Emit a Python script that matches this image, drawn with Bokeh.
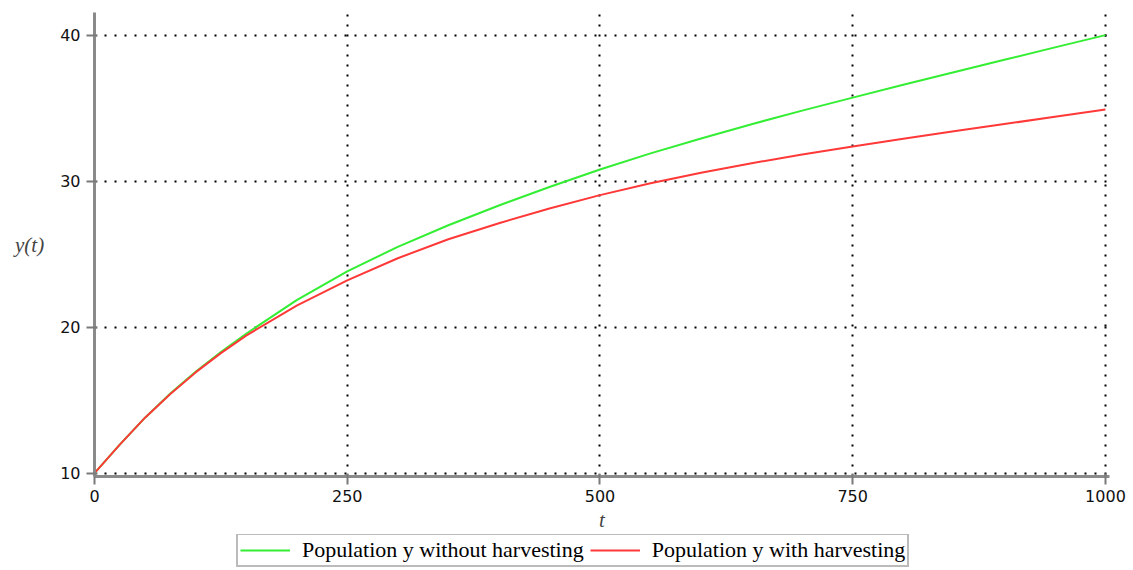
from bokeh.plotting import figure
from bokeh.models import Range1d, FixedTicker, Legend, LegendItem
from bokeh.layouts import column
from bokeh.embed import file_html
from bokeh.resources import INLINE

# data
t = [0, 25, 50, 75, 100, 125, 150, 200, 250, 300, 350, 400, 450, 500,
     550, 600, 650, 700, 750, 800, 850, 900, 950, 1000]
y_without = [10, 11.95, 13.8, 15.45, 16.95, 18.3, 19.55, 21.85, 23.82, 25.5, 26.98,
             28.33, 29.6, 30.8, 31.9, 32.92, 33.9, 34.83, 35.72, 36.6, 37.46,
             38.31, 39.16, 40.0]
y_with = [10, 11.95, 13.8, 15.42, 16.9, 18.22, 19.42, 21.48, 23.2, 24.72, 26.02,
          27.12, 28.12, 29.04, 29.85, 30.58, 31.23, 31.82, 32.37, 32.9, 33.41,
          33.91, 34.41, 34.9]
x_ticks = [0, 250, 500, 750, 1000]
y_ticks = [10, 20, 30, 40]
labels = ["Population y without harvesting", "Population y with harvesting"]
colors = ["#33ee33", "#ff3838"]

p = figure(frame_width=1015, frame_height=464, output_backend="svg",
           toolbar_location=None, x_range=Range1d(0, 1004),
           y_range=Range1d(9.77, 41.55),
           min_border_left=94, min_border_top=12, min_border_right=18,
           min_border_bottom=0)
p.outline_line_color = None
p.background_fill_color = "white"

for ax in (p.xaxis[0], p.yaxis[0]):
    ax.axis_line_color = "#8a8a8a"
    ax.axis_line_width = 3
    ax.major_tick_line_color = "#7a7a7a"
    ax.major_tick_line_width = 2
    ax.major_tick_out = 8
    ax.major_tick_in = 3
    ax.minor_tick_line_color = None
    ax.major_label_text_font = "DejaVu Sans"
    ax.major_label_text_font_size = "16px"
    ax.major_label_text_color = "#111111"

p.xaxis.ticker = FixedTicker(ticks=x_ticks)
p.yaxis.ticker = FixedTicker(ticks=y_ticks)
p.xaxis.major_label_standoff = 5
p.yaxis.major_label_standoff = 6
p.xaxis.axis_label = "t"
p.xaxis.axis_label_text_font = "Liberation Serif"
p.xaxis.axis_label_text_font_style = "italic"
p.xaxis.axis_label_text_font_size = "21px"
p.xaxis.axis_label_standoff = 3

yax = p.yaxis[0]
yax.axis_label = "y(t)"
yax.axis_label_text_font = "Liberation Serif"
yax.axis_label_text_font_style = "italic"
yax.axis_label_text_font_size = "21px"
yax.axis_label_standoff = 13
if "axis_label_orientation" in yax.properties():
    yax.axis_label_orientation = "horizontal"

for g in (p.xgrid[0], p.ygrid[0]):
    g.grid_line_color = "black"
    g.grid_line_width = 2
    g.grid_line_dash = "2 8"
p.xgrid.ticker = FixedTicker(ticks=x_ticks)
p.ygrid.ticker = FixedTicker(ticks=y_ticks)

p.line(t, y_without, line_color=colors[0], line_width=2)
p.line(t, y_with, line_color=colors[1], line_width=2)

# legend strip below the plot (its lines lie outside its own ranges, only the legend shows)
leg = figure(width=1127, height=35, output_backend="svg", toolbar_location=None,
             x_axis_type=None, y_axis_type=None,
             x_range=Range1d(-3, -2), y_range=Range1d(-3, -2),
             min_border_left=0, min_border_right=0, min_border_top=0,
             min_border_bottom=0)
leg.outline_line_color = None
leg.background_fill_color = "white"
l1 = leg.line(t, y_without, line_color=colors[0], line_width=2)
l2 = leg.line(t, y_with, line_color=colors[1], line_width=2)

legend = Legend(items=[LegendItem(label=labels[0], renderers=[l1]),
                       LegendItem(label=labels[1], renderers=[l2])],
                orientation="horizontal", location=(142, 2))
legend.label_text_font = "Liberation Serif"
legend.label_text_font_size = "22px"
legend.label_text_color = "black"
legend.label_standoff = 12
legend.glyph_width = 50
legend.glyph_height = 20
legend.label_height = 20
legend.padding = 2
legend.spacing = 6
legend.margin = 0
legend.border_line_color = "#777777"
legend.border_line_width = 2
legend.background_fill_color = "white"
leg.add_layout(legend)

layout = column(p, leg, spacing=0)
open("out.html", "w").write(file_html(layout, INLINE))
